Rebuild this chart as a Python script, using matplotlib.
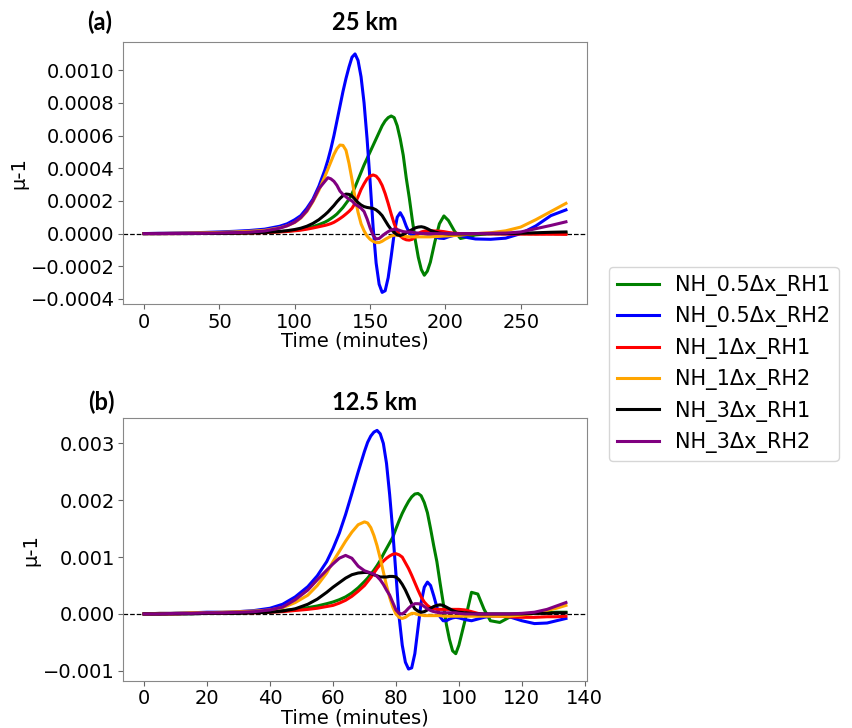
import matplotlib
matplotlib.use("Agg")
import matplotlib.pyplot as plt
import numpy as np
from matplotlib.ticker import MultipleLocator

plt.rcParams['font.family'] = ['DejaVu Sans']

# ---- panel (a): 25 km, values in units of 1e-4 ----
t_a = [0, 10, 20, 30, 40, 50, 60, 70, 80, 90,
       95, 100, 104, 108, 112, 116,
       120, 122, 124, 126, 128, 130, 132, 134, 136, 138,
       140, 142, 144, 146, 148, 150, 152, 154, 156, 158,
       160, 162, 164, 166, 168, 170, 172, 174, 176, 178,
       180, 182, 184, 186, 188, 190,
       193, 196, 199, 202, 206, 210, 215, 220,
       230, 240, 250, 260, 270, 280]

a_nh05_rh1 = [0.0, 0.0, 0.01, 0.01, 0.02, 0.03, 0.04, 0.05, 0.08, 0.12,
              0.15, 0.2, 0.25, 0.32, 0.42, 0.55,
              0.7, 0.8, 0.92, 1.05, 1.2, 1.4, 1.6, 1.85, 2.1, 2.45,
              2.85, 3.3, 3.75, 4.2, 4.6, 5.0, 5.4, 5.8, 6.2, 6.6,
              6.9, 7.1, 7.2, 7.1, 6.6, 5.8, 4.8, 3.4, 2.2, 0.85,
              -0.4, -1.45, -2.2, -2.55, -2.3, -1.75,
              -0.5, 0.6, 1.08, 0.8, 0.15, -0.3, -0.2, -0.08,
              0.0, 0.0, 0.0, 0.0, 0.02, 0.04]
a_nh05_rh2 = [0.0, 0.02, 0.03, 0.05, 0.07, 0.1, 0.14, 0.19, 0.27, 0.45,
              0.6, 0.85, 1.1, 1.55, 2.1, 2.9,
              3.9, 4.5, 5.2, 6.0, 6.9, 7.8, 8.7, 9.5, 10.2, 10.8,
              11.0, 10.6, 9.6, 8.0, 5.8, 3.2, 0.4, -1.8, -3.1, -3.6,
              -3.5, -2.7, -1.4, 0.0, 1.0, 1.28, 0.95, 0.45, 0.05, -0.15,
              -0.1, 0.0, 0.02, 0.0, -0.05, -0.1,
              -0.2, -0.28, -0.3, -0.2, -0.1, -0.12, -0.25, -0.33,
              -0.35, -0.28, 0.0, 0.47, 1.1, 1.45]
a_nh1_rh1 = [0.0, 0.0, 0.0, 0.01, 0.01, 0.02, 0.03, 0.04, 0.06, 0.1,
             0.13, 0.17, 0.21, 0.27, 0.34, 0.42,
             0.5, 0.55, 0.61, 0.69, 0.8, 0.92, 1.05, 1.2, 1.36, 1.55,
             1.85, 2.25, 2.7, 3.05, 3.35, 3.52, 3.59, 3.52, 3.3, 2.95,
             2.45, 1.85, 1.2, 0.6, 0.15, -0.15, -0.3, -0.38, -0.4, -0.35,
             -0.2, 0.0, 0.1, 0.15, 0.17, 0.17,
             0.16, 0.15, 0.12, 0.07, 0.02, 0.0, 0.0, 0.0,
             -0.02, -0.03, -0.03, -0.04, -0.04, -0.05]
a_nh1_rh2 = [0.0, 0.01, 0.02, 0.03, 0.05, 0.07, 0.1, 0.14, 0.2, 0.35,
             0.48, 0.68, 0.95, 1.35, 1.95, 2.65,
             3.5, 3.95, 4.4, 4.85, 5.2, 5.42, 5.4, 5.1, 4.3, 3.3,
             2.2, 1.3, 0.6, 0.17, -0.15, -0.35, -0.48, -0.55, -0.55, -0.47,
             -0.35, -0.25, -0.15, -0.1, -0.1, -0.12, -0.15, -0.18, -0.2, -0.2,
             -0.2, -0.2, -0.2, -0.2, -0.2, -0.2,
             -0.18, -0.17, -0.15, -0.14, -0.12, -0.1, -0.05, 0.0,
             0.05, 0.17, 0.4, 0.85, 1.35, 1.85]
a_nh3_rh1 = [0.0, 0.0, 0.0, 0.0, 0.01, 0.01, 0.02, 0.04, 0.07, 0.13,
             0.18, 0.25, 0.33, 0.45, 0.62, 0.85,
             1.15, 1.32, 1.52, 1.72, 1.95, 2.15, 2.32, 2.42, 2.4, 2.3,
             2.1, 1.9, 1.75, 1.65, 1.6, 1.57, 1.54, 1.45, 1.3, 1.1,
             0.8, 0.5, 0.25, 0.07, -0.08, -0.12, -0.05, 0.05, 0.15, 0.25,
             0.35, 0.4, 0.42, 0.38, 0.3, 0.2,
             0.1, 0.03, 0.0, -0.02, -0.02, -0.02, -0.02, 0.0,
             0.0, 0.0, 0.02, 0.05, 0.08, 0.1]
a_nh3_rh2 = [0.0, 0.0, 0.01, 0.01, 0.02, 0.04, 0.06, 0.09, 0.16, 0.33,
             0.48, 0.7, 0.98, 1.4, 2.0, 2.75,
             3.2, 3.42, 3.35, 3.2, 2.95, 2.6, 2.4, 2.25, 2.1, 2.0,
             1.8, 1.68, 1.55, 1.35, 0.9, 0.35, -0.1, -0.33, -0.3, -0.15,
             0.0, 0.12, 0.22, 0.27, 0.25, 0.18, 0.12, 0.1, 0.1, 0.08,
             0.05, 0.03, 0.02, 0.0, 0.0, 0.0,
             0.0, 0.0, 0.0, 0.0, 0.0, 0.0, 0.0, 0.0,
             0.02, 0.03, 0.1, 0.3, 0.5, 0.72]

# ---- panel (b): 12.5 km, values in units of 1e-3 ----
t_b = [0, 5, 10, 15, 20, 25, 30, 35, 40, 44,
       48, 52, 55, 58, 60, 62, 64, 66, 68,
       70, 71, 72, 73, 74, 75, 76, 77, 78, 79,
       80, 81, 82, 83, 84, 85, 86, 87, 88, 89,
       90, 91, 92, 93, 94, 95, 96, 97, 98, 99,
       100, 102, 104, 106, 108, 110, 113, 116,
       120, 124, 128, 131, 134]

b_nh05_rh1 = [0.0, 0.0, 0.01, 0.01, 0.01, 0.02, 0.02, 0.03, 0.04, 0.06,
              0.08, 0.11, 0.14, 0.18, 0.21, 0.25, 0.3, 0.37, 0.46,
              0.57, 0.63, 0.7, 0.77, 0.85, 0.94, 1.05, 1.15, 1.25, 1.35,
              1.5, 1.64, 1.77, 1.88, 1.98, 2.06, 2.11, 2.12, 2.08, 1.96,
              1.78, 1.5, 1.2, 0.92, 0.55, 0.2, -0.18, -0.45, -0.65, -0.7,
              -0.55, -0.1, 0.38, 0.35, 0.08, -0.12, -0.15, -0.06,
              0.0, 0.01, 0.02, 0.03, 0.03]
b_nh05_rh2 = [0.0, 0.01, 0.01, 0.02, 0.03, 0.03, 0.04, 0.06, 0.1, 0.17,
              0.3, 0.48, 0.67, 0.92, 1.15, 1.42, 1.75, 2.12, 2.5,
              2.86, 3.02, 3.13, 3.2, 3.23, 3.17, 3.0, 2.65, 2.1, 1.45,
              0.7, -0.05, -0.55, -0.85, -0.97, -0.95, -0.7, -0.25, 0.2, 0.47,
              0.56, 0.5, 0.32, 0.12, -0.05, -0.12, -0.12, -0.09, -0.07, -0.06,
              -0.07, -0.1, -0.12, -0.09, -0.06, -0.04, -0.03, -0.05,
              -0.12, -0.17, -0.16, -0.12, -0.08]
b_nh1_rh1 = [0.0, 0.0, 0.0, 0.01, 0.01, 0.01, 0.02, 0.02, 0.03, 0.04,
             0.06, 0.08, 0.1, 0.13, 0.15, 0.19, 0.24, 0.31, 0.4,
             0.5, 0.57, 0.64, 0.72, 0.8, 0.87, 0.93, 0.98, 1.02, 1.05,
             1.06, 1.04, 1.0, 0.9, 0.8, 0.68, 0.55, 0.42, 0.3, 0.21,
             0.15, 0.11, 0.09, 0.08, 0.08, 0.08, 0.08, 0.08, 0.08, 0.08,
             0.08, 0.07, 0.04, 0.01, -0.01, -0.03, -0.04, -0.05,
             -0.06, -0.06, -0.05, -0.05, -0.04]
b_nh1_rh2 = [0.0, 0.01, 0.01, 0.02, 0.02, 0.03, 0.04, 0.05, 0.07, 0.11,
             0.2, 0.33, 0.5, 0.72, 0.92, 1.1, 1.28, 1.44, 1.57,
             1.62, 1.6, 1.52, 1.38, 1.2, 0.98, 0.74, 0.5, 0.29, 0.12,
             0.0, -0.06, -0.08, -0.06, -0.02, 0.01, 0.01, -0.01, -0.02, -0.03,
             -0.03, -0.03, -0.03, -0.03, -0.03, -0.04, -0.04, -0.04, -0.04, -0.04,
             -0.04, -0.04, -0.04, -0.04, -0.04, -0.04, -0.04, -0.04,
             -0.02, 0.01, 0.06, 0.1, 0.15]
b_nh3_rh1 = [0.0, 0.0, 0.0, 0.0, 0.01, 0.01, 0.01, 0.02, 0.03, 0.05,
             0.09, 0.17, 0.26, 0.38, 0.47, 0.55, 0.63, 0.69, 0.72,
             0.73, 0.73, 0.71, 0.69, 0.67, 0.65, 0.65, 0.65, 0.66, 0.66,
             0.65, 0.6, 0.52, 0.42, 0.3, 0.18, 0.09, 0.05, 0.03, 0.04,
             0.07, 0.1, 0.13, 0.15, 0.16, 0.15, 0.12, 0.09, 0.06, 0.04,
             0.03, 0.02, 0.01, 0.0, 0.0, 0.0, 0.0, 0.0,
             0.0, 0.01, 0.01, 0.02, 0.02]
b_nh3_rh2 = [0.0, 0.0, 0.01, 0.01, 0.02, 0.02, 0.03, 0.04, 0.07, 0.12,
             0.25, 0.42, 0.6, 0.77, 0.88, 0.98, 1.03, 0.98, 0.84,
             0.76, 0.74, 0.72, 0.7, 0.66, 0.6, 0.52, 0.42, 0.33, 0.2,
             0.07, 0.01, 0.0, 0.04, 0.1, 0.15, 0.18, 0.18, 0.17, 0.13,
             0.09, 0.06, 0.04, 0.03, 0.02, 0.02, 0.02, 0.02, 0.02, 0.02,
             0.01, 0.0, 0.0, 0.0, 0.0, 0.0, 0.0, 0.0,
             0.01, 0.03, 0.08, 0.14, 0.2]

labels = ['NH_0.5Δx_RH1', 'NH_0.5Δx_RH2', 'NH_1Δx_RH1',
          'NH_1Δx_RH2', 'NH_3Δx_RH1', 'NH_3Δx_RH2']
colors = ['green', 'blue', 'red', 'orange', 'black', 'purple']

series_a = [a_nh05_rh1, a_nh05_rh2, a_nh1_rh1, a_nh1_rh2, a_nh3_rh1, a_nh3_rh2]
series_b = [b_nh05_rh1, b_nh05_rh2, b_nh1_rh1, b_nh1_rh2, b_nh3_rh1, b_nh3_rh2]

fig = plt.figure(figsize=(8.52, 7.28), dpi=100)
ax1 = fig.add_axes([0.1444, 0.582, 0.5446, 0.3603])
ax2 = fig.add_axes([0.1444, 0.0646, 0.5446, 0.3606])

for ax, t, data, scale in [(ax1, t_a, series_a, 1e-4), (ax2, t_b, series_b, 1e-3)]:
    for vals, lab, col in zip(data, labels, colors):
        ax.plot(t, np.array(vals) * scale, color=col, lw=2.2, label=lab)
    ax.axhline(0, color='black', ls='--', lw=0.9, zorder=0.5)
    ax.set_xlabel('Time (minutes)', fontsize=14, labelpad=0)
    ax.set_ylabel('μ-1', fontsize=14, labelpad=2)
    ax.tick_params(labelsize=14, color='#666666', pad=2.5)
    for sp in ax.spines.values():
        sp.set_color('#888888')

ax1.xaxis.set_major_locator(MultipleLocator(50))
ax1.yaxis.set_major_locator(MultipleLocator(0.0002))
ax2.xaxis.set_major_locator(MultipleLocator(20))
ax2.yaxis.set_major_locator(MultipleLocator(0.001))

title_font = dict(fontsize=17, fontweight='bold', family='Lato',
                  ha='center', va='center')
fig.text(100 / 852, 1 - 22 / 728, '(a)', **title_font)
fig.text(365 / 852, 1 - 22 / 728, '25 km', **title_font)
fig.text(101 / 852, 1 - 402 / 728, '(b)', **title_font)
fig.text(375 / 852, 1 - 402 / 728, '12.5 km', **title_font)

handles, labs = ax1.get_legend_handles_labels()
fig.legend(handles, labs, loc='center left', bbox_to_anchor=(0.702, 0.5),
           fontsize=15, handlelength=2.0, labelspacing=0.5)

fig.savefig('out.png', dpi=100)
